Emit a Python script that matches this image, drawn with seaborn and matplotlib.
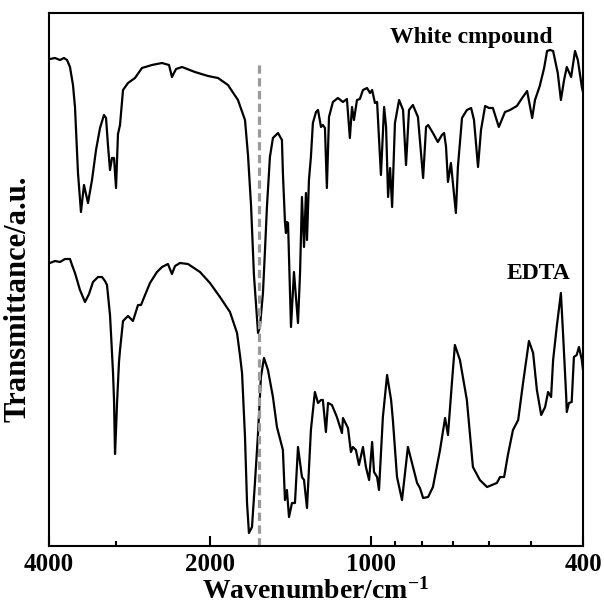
import matplotlib
matplotlib.use("Agg")
import matplotlib.pyplot as plt
import matplotlib.ticker as mticker
import seaborn as sns

# White compound spectrum (wavenumber / cm-1, transmittance a.u.)
white_wn = [3983, 3898, 3815, 3750, 3701, 3654, 3607, 3576, 3530, 3485, 3440, 3381,
            3323, 3266, 3210, 3156, 3128, 3102, 3075, 3048, 3022, 2996, 2971, 2945,
            2907, 2845, 2761, 2679, 2566, 2457, 2384, 2354, 2313, 2254, 2132, 2015,
            1930, 1849, 1771, 1718, 1696, 1674, 1653, 1624, 1611, 1590, 1576, 1563,
            1543, 1523, 1490, 1465, 1459, 1446, 1440, 1434, 1427, 1409, 1391, 1367,
            1355, 1344, 1332, 1321, 1315, 1304, 1293, 1282, 1265, 1254, 1238, 1228,
            1217, 1207, 1196, 1176, 1151, 1126, 1107, 1093, 1083, 1074, 1060, 1047,
            1033, 1015, 1002, 993, 981, 972, 956, 943, 935, 927, 919, 911, 900, 884,
            869, 858, 847, 833, 815, 797, 787, 780, 764, 748, 735, 728, 722, 716,
            707, 701, 692, 686, 674, 660, 648, 640, 629, 621, 610, 600, 590, 575,
            560, 548, 532, 520, 509, 498, 492, 482, 473, 467, 461, 455, 446, 440,
            434, 429, 421, 414, 409, 402, 400]
white_t = [487, 488, 486, 488, 486, 479, 461, 439, 373, 334, 361, 343,
           366, 396, 418, 431, 428, 401, 376, 388, 388, 358, 412, 421,
           456, 463, 468, 478, 481, 483, 481, 469, 477, 479, 474, 470,
           468, 461, 446, 426, 391, 341, 271, 213, 219, 253, 296, 339,
           389, 408, 413, 406, 373, 324, 313, 324, 323, 219, 274, 223,
           273, 349, 299, 353, 306, 366, 389, 423, 434, 436, 419, 421,
           418, 358, 429, 444, 448, 444, 447, 408, 439, 426, 446, 447,
           456, 458, 453, 456, 443, 444, 371, 439, 419, 349, 378, 339, 423, 446,
           436, 381, 436, 441, 429, 368, 419, 421, 413, 404, 411, 413, 399, 364,
           383, 363, 333, 379, 428, 436, 438, 426, 379, 416, 440, 438, 438, 419,
           434, 436, 440, 448, 455, 428, 446, 460, 478, 495, 496, 495, 473, 446,
           466, 479, 469, 495, 486, 459, 454]

# EDTA spectrum
edta_wn = [3983, 3898, 3815, 3733, 3654, 3622, 3576, 3500, 3425, 3366, 3309, 3238,
           3183, 3142, 3115, 3075, 3062, 3035, 3022, 3009, 2996, 2983, 2958, 2945,
           2907, 2845, 2785, 2725, 2690, 2667, 2588, 2511, 2457, 2395, 2354, 2323,
           2274, 2197, 2086, 1998, 1914, 1833, 1778, 1756, 1740, 1718, 1703, 1689,
           1667, 1646, 1624, 1604, 1583, 1556, 1523, 1497, 1459, 1446, 1434, 1421,
           1403, 1385, 1367, 1344, 1332, 1315, 1293, 1271, 1254, 1238, 1228, 1212,
           1201, 1181, 1156, 1131, 1126, 1102, 1088, 1079, 1065, 1051, 1033, 1020,
           1006, 993, 985, 972, 964, 948, 931, 915, 908, 892, 873, 851, 836, 818,
           808, 797, 780, 764, 741, 725, 716, 704, 695, 680, 660, 643, 624, 605,
           592, 580, 572, 562, 553, 541, 529, 518, 505, 496, 488, 479, 471, 465,
           459, 455, 448, 440, 436, 430, 429, 425, 420, 416, 411, 407, 402, 400]
edta_t = [283, 285, 284, 287, 287, 281, 273, 256, 244, 252, 264, 269,
          269, 265, 261, 231, 213, 173, 146, 92, 116, 143, 184, 196,
          225, 230, 225, 241, 241, 246, 263, 274, 279, 282, 272, 280,
          283, 282, 274, 263, 249, 234, 213, 191, 173, 109, 43, 13,
          19, 63, 113, 169, 188, 176, 149, 119, 96, 46, 56, 29,
          43, 43, 99, 69, 66, 38, 116, 154, 143, 146, 146, 114,
          143, 141, 129, 113, 128, 118, 94, 99, 96, 81, 99, 79,
          66, 104, 74, 69, 56, 129, 171, 146, 126, 69, 46, 99, 83, 63,
          58, 48, 49, 59, 96, 128, 111, 163, 201, 186, 146, 79, 66, 59,
          61, 63, 69, 69, 91, 116, 126, 163, 205, 193, 156, 131, 139, 154,
          149, 186, 219, 253, 213, 149, 134, 143, 144, 189, 191, 199, 186, 176]

major_ticks = [4000, 2000, 1000, 400]
minor_ticks = [3000, 900, 800, 700, 600, 500]
marker_wn = 1618
marker_top = 484

sns.set_theme(style="ticks")
plt.rcParams['font.family'] = ['Liberation Serif', 'DejaVu Serif']
plt.rcParams['text.color'] = 'black'
plt.rcParams['axes.labelcolor'] = 'black'
plt.rcParams['xtick.color'] = 'black'
plt.rcParams['mathtext.fontset'] = 'custom'
plt.rcParams['mathtext.rm'] = 'Liberation Serif:bold'
plt.rcParams['mathtext.it'] = 'Liberation Serif:bold'
plt.rcParams['mathtext.bf'] = 'Liberation Serif:bold'

fig, ax = plt.subplots(figsize=(6.04, 6.05), dpi=100)
fig.subplots_adjust(left=49/604, right=583/604, top=1-13/605, bottom=1-546/605)

sns.lineplot(x=white_wn, y=white_t, ax=ax, color='black', lw=1.6, estimator=None, sort=False)
sns.lineplot(x=edta_wn, y=edta_t, ax=ax, color='black', lw=1.6, estimator=None, sort=False)
ax.vlines(marker_wn, 0, marker_top, colors='#9a9a9a', lw=2.3, linestyles=(0, (2.6, 1.4)))

ax.set_xscale('log')
ax.set_xlim(4000, 400)
ax.set_ylim(0, 533)
ax.xaxis.set_major_locator(mticker.FixedLocator(major_ticks))
ax.xaxis.set_major_formatter(mticker.FixedFormatter([str(t) for t in major_ticks]))
ax.xaxis.set_minor_locator(mticker.FixedLocator(minor_ticks))
ax.xaxis.set_minor_formatter(mticker.NullFormatter())
ax.set_yticks([])
ax.tick_params(axis='x', which='major', direction='in', length=7, width=1.5,
               pad=5, labelsize=18, labelcolor='black')
ax.tick_params(axis='x', which='minor', direction='in', length=3.5, width=1.5)
for lab in ax.get_xticklabels():
    lab.set_fontweight('bold')
for sp in ax.spines.values():
    sp.set_linewidth(1.5)
    sp.set_color('black')

ax.set_xlabel(r'Wavenumber/cm$^{-1}$', fontsize=20, fontweight='bold', color='black')
ax.xaxis.label.set_va('baseline')
ax.xaxis.set_label_coords(0.5, (546-599)/533)
ax.set_ylabel('Transmittance/a.u.', fontsize=22, fontweight='bold', color='black')
ax.yaxis.set_label_coords(-0.030, 0.463)

ax.text(0.944, 0.944, 'White cmpound', transform=ax.transAxes, ha='right', va='baseline',
        fontsize=17, fontweight='bold', color='black')
ax.text(0.976, 0.501, 'EDTA', transform=ax.transAxes, ha='right', va='baseline',
        fontsize=17, fontweight='bold', color='black')

fig.savefig('out.png', dpi=100)
